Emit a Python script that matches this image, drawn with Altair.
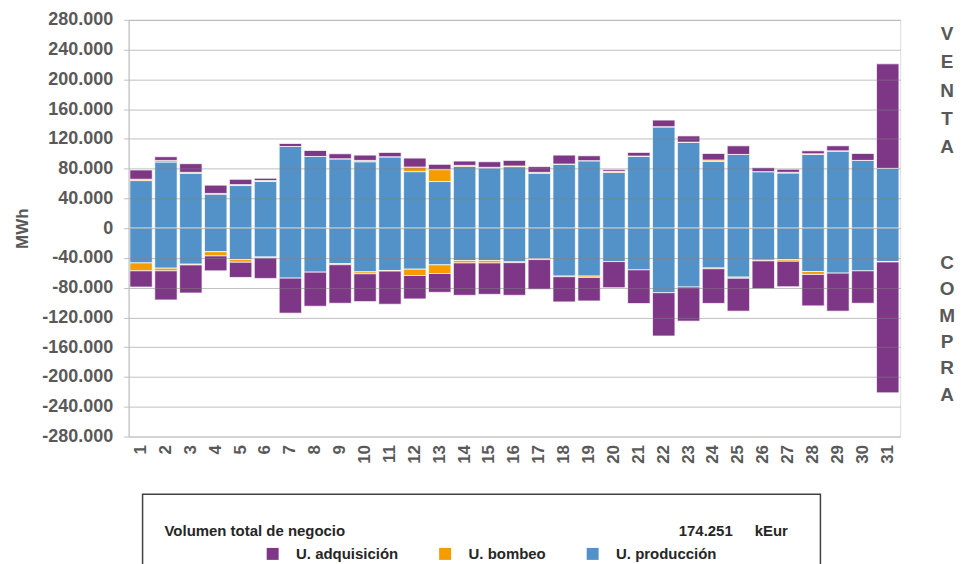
import altair as alt
import pandas as pd

days = list(range(1, 32))

# VENTA (positive)
prod_venta = [64000, 88900, 73800, 45800, 57300, 62700, 109800, 96400, 93300, 89300, 96000, 76000, 62700, 83100, 80900,
              82700, 73800, 86200, 90700, 75100, 96900, 136400, 115600, 89800, 99100, 76000, 74200, 99100, 104000, 91100, 80400]
bomb_venta = [1800, 2200, 1300, 900, 1300, 1300, 0, 0, 0, 1800, 0, 6200, 16000, 1300, 900,
              900, 1300, 0, 0, 1300, 0, 0, 0, 1800, 0, 0, 900, 900, 0, 0, 0]
adq_venta = [12400, 4900, 11600, 11100, 7100, 3100, 4000, 8000, 6700, 7100, 5800, 12000, 7100, 5800, 7500,
             7500, 7600, 12000, 6600, 2300, 4900, 8900, 8400, 8800, 11600, 5300, 4000, 4000, 6700, 9300, 140500]

# COMPRA (negative)
prod_compra = [-46700, -53800, -48400, -31600, -42200, -38700, -67100, -59100, -47600, -58700, -56900, -55100, -49300, -43600, -43600,
               -45300, -40900, -64400, -64400, -44900, -56000, -86700, -79100, -53500, -65800, -43100, -42200, -58200, -60400, -57300, -44900]
bomb_compra = [-10600, -3500, -1000, -5700, -3600, -1300, 0, 0, -1500, -2600, -800, -8500, -11600, -3100, -3100,
               -1000, -1300, -800, -1800, 0, 0, 0, 0, -1000, -1500, -800, -2200, -4000, 0, 0, -500]
adq_compra = [-21800, -39100, -37700, -20000, -20400, -27500, -47100, -45800, -51800, -37400, -44500, -31500, -25300, -43500, -42200,
              -43900, -40000, -33900, -31600, -35100, -45300, -58200, -45800, -46600, -44200, -37400, -34300, -42200, -51100, -43600, -175900]

series_names = ["U. adquisición", "U. bombeo", "U. producción"]
series_colors = ["#7E3787", "#F59C00", "#5392C8"]
stack_order = {"U. producción": 0, "U. bombeo": 1, "U. adquisición": 2}

y_ticks = list(range(-280000, 280001, 40000))

total_label = "Volumen total de negocio"
total_value = "174.251"
total_unit = "kEur"

rows = []
for i, d in enumerate(days):
    for name, pos, neg in [("U. producción", prod_venta, prod_compra),
                           ("U. bombeo", bomb_venta, bomb_compra),
                           ("U. adquisición", adq_venta, adq_compra)]:
        rows.append({"dia": str(d), "serie": name, "valor": pos[i], "orden": stack_order[name]})
        rows.append({"dia": str(d), "serie": name, "valor": neg[i], "orden": stack_order[name]})
df = pd.DataFrame(rows)

FONT = "Liberation Sans"
NARROW = "Liberation Sans Narrow, Liberation Sans"
GRAY = "#595959"

label_expr = ("(datum.value < 0 ? '-' : '') + "
              "replace(format(abs(datum.value), ','), regexp(',', 'g'), '.')")

bars = alt.Chart(df).mark_bar(stroke="white", strokeWidth=1, strokeOpacity=0.7).encode(
    x=alt.X("dia:N", sort=[str(d) for d in days],
            scale=alt.Scale(paddingInner=0.1, paddingOuter=0.05),
            axis=alt.Axis(title=None, labelAngle=-90, ticks=False, domain=False, grid=False,
                          labelFont=FONT, labelFontSize=17, labelFontWeight="bold",
                          labelColor=GRAY, labelPadding=8)),
    y=alt.Y("valor:Q", stack="zero",
            scale=alt.Scale(domain=[-280000, 280000], nice=False),
            axis=alt.Axis(title="MWh", values=y_ticks, labelExpr=label_expr,
                          labelFont=FONT, labelFontSize=18, labelFontWeight="bold",
                          labelColor=GRAY, labelPadding=11, tickSize=5,
                          tickColor="#BFBFBF", domainColor="#BFBFBF",
                          gridColor="#808080", gridOpacity=0.5, gridWidth=1,
                          titleFont=FONT, titleFontSize=17, titleFontWeight="bold",
                          titleColor=GRAY, titlePadding=10, zindex=1)),
    color=alt.Color("serie:N", scale=alt.Scale(domain=series_names, range=series_colors),
                    legend=alt.Legend(title=None, orient="none", legendX=137, legendY=528,
                                      direction="horizontal", symbolType="square",
                                      symbolSize=144, symbolStrokeWidth=0,
                                      labelFont=NARROW, labelFontSize=15, labelFontWeight="bold",
                                      labelColor="#262626", labelOffset=16, columnPadding=39,
                                      padding=0)),
    order=alt.Order("orden:Q"),
)

one = pd.DataFrame({"a": [0]})

venta = alt.Chart(one).mark_text(text="V\nE\nN\nT\nA", lineBreak="\n", lineHeight=28.5,
                                 font=FONT, fontSize=19, fontWeight="bold", color=GRAY,
                                 align="center", baseline="middle").encode(
    x=alt.value(821), y=alt.value(14))
compra = alt.Chart(one).mark_text(text="C\nO\nM\nP\nR\nA", lineBreak="\n", lineHeight=26.4,
                                  font=FONT, fontSize=19, fontWeight="bold", color=GRAY,
                                  align="center", baseline="middle").encode(
    x=alt.value(821), y=alt.value(244))

box = alt.Chart(one).mark_rect(fill="white", fillOpacity=0, stroke="#404040", strokeWidth=1.5).encode(
    x=alt.value(14), x2=alt.value(694), y=alt.value(476), y2=alt.value(620))

t1 = alt.Chart(one).mark_text(text=total_label, font=NARROW, fontSize=15, fontWeight="bold",
                              color="#262626", align="left", baseline="middle").encode(
    x=alt.value(36), y=alt.value(513))
t2 = alt.Chart(one).mark_text(text=total_value, font=NARROW, fontSize=15, fontWeight="bold",
                              color="#262626", align="right", baseline="middle").encode(
    x=alt.value(606), y=alt.value(513))
t3 = alt.Chart(one).mark_text(text=total_unit, font=NARROW, fontSize=15, fontWeight="bold",
                              color="#262626", align="left", baseline="middle").encode(
    x=alt.value(628), y=alt.value(513))

chart = alt.layer(bars, venta, compra, box, t1, t2, t3).properties(
    width=774, height=418,
    autosize=alt.AutoSizeParams(type="none"),
    padding={"left": 121, "top": 11, "right": 55, "bottom": 127},
).configure_view(stroke=None).configure(background="white")

chart.save("out.html", embed_options={"renderer": "svg", "actions": False})
